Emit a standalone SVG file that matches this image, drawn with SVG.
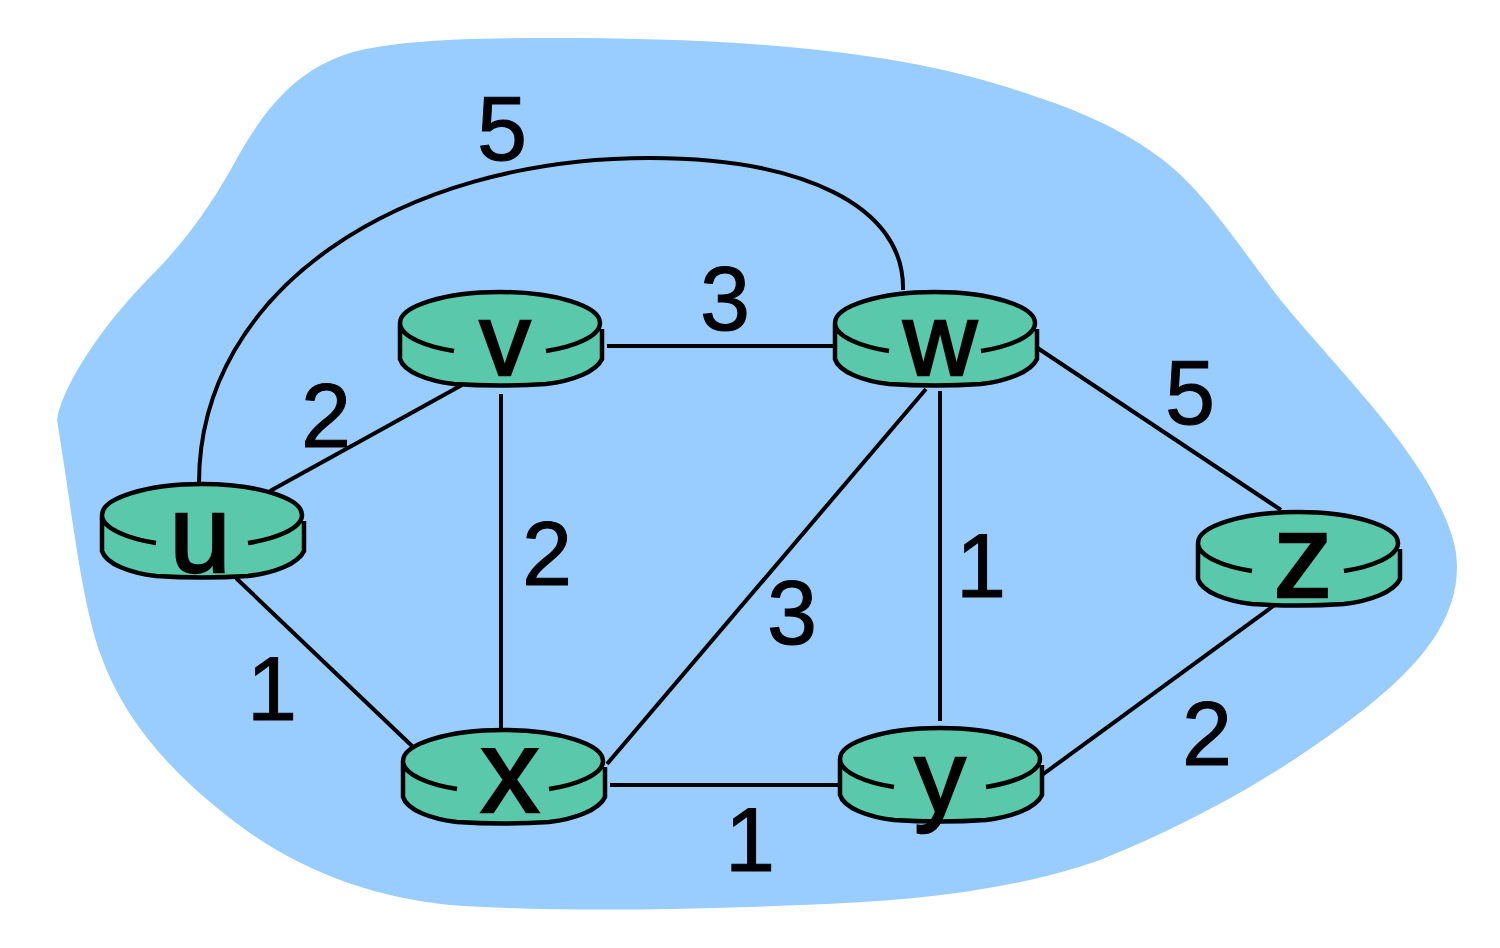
<svg xmlns="http://www.w3.org/2000/svg" width="1500" height="948" viewBox="0 0 1500 948">
<style>
.cloud{fill:#99ccff;stroke:none}
.link{fill:none;stroke:#000;stroke-width:4}
.body{fill:#5ac8ab;stroke:none}
.edge{fill:none;stroke:#000;stroke-width:4.5}
text{font-family:"Liberation Sans",Arial,sans-serif;fill:#000;text-anchor:middle;stroke:#000}
.w{font-size:90px;stroke-width:1}
.n{font-size:102px;stroke-width:2.5}
</style>
<defs>
<g id="router">
<path class="body" d="M-100 0C-100-17-55-31 0-31S100-17 100 0V36C100 53 55 62 0 62S-100 53-100 36Z"/>
<path class="edge" d="M-100 0C-100-17-55-31 0-31S100-17 100 0C100 14 72 24 46 28M-46 28C-72 24-100 14-100 0V36C-96 49-72 58-46 61M-46 61Q0 64 46 61M46 61C72 58 96 49 102 36V6"/>
</g>
</defs>
<path id="cloud" class="cloud" d="M57 420C62 385 105 322 150 277C193 234 217 195 240 153C265 110 295 70 350 53C395 40 470 38 550 38C700 38 870 45 1000 85C1060 103 1120 125 1167 163C1210 198 1245 255 1283 303C1330 360 1395 425 1430 487C1445 515 1457 540 1457 567C1457 620 1420 665 1367 707C1290 768 1200 820 1100 860C1010 892 900 902 800 905C680 910 550 912 450 905C380 898 310 875 250 833C180 783 125 725 100 653C80 595 72 510 57 420Z"/>
<g id="connectors">
<path class="link" d="M199 483C199 290 400 158 650 158C800 158 905 205 903 290"/>
<path class="link" d="M270 491L462 385"/>
<path class="link" d="M236 578L412 746"/>
<path class="link" d="M501 394V730"/>
<path class="link" d="M607 346H835"/>
<path class="link" d="M926 389L607 764"/>
<path class="link" d="M940 391V721"/>
<path class="link" d="M1036 347L1281 510"/>
<path class="link" d="M610 785H840"/>
<path class="link" d="M1042 775L1276 604"/>
</g>
<g id="weights">
<text class="w" x="502" y="160">5</text>
<text class="w" x="725" y="330">3</text>
<text class="w" x="326" y="447">2</text>
<text class="w" x="547" y="585">2</text>
<text class="w" x="792" y="644">3</text>
<text class="w" x="981" y="597">1</text>
<text class="w" x="1190" y="424">5</text>
<text class="w" x="272" y="720">1</text>
<text class="w" x="750" y="871">1</text>
<text class="w" x="1207" y="765">2</text>
</g>
<g id="node-u"><use href="#router" x="202" y="515"/><text class="n" x="200" y="572" style="font-size:110px">u</text></g>
<g id="node-v"><use href="#router" x="500" y="323"/><text class="n" x="505" y="375">v</text></g>
<g id="node-w"><use href="#router" x="935" y="323"/><text class="n" x="940" y="375">w</text></g>
<g id="node-x"><use href="#router" x="503" y="761"/><text class="n" x="510" y="812" style="font-size:118px">x</text></g>
<g id="node-y"><use href="#router" x="940" y="759"/><text class="n" x="940" y="812">y</text></g>
<g id="node-z"><use href="#router" x="1298" y="543"/><text class="n" x="1303" y="597" style="font-size:118px">z</text></g>
</svg>
